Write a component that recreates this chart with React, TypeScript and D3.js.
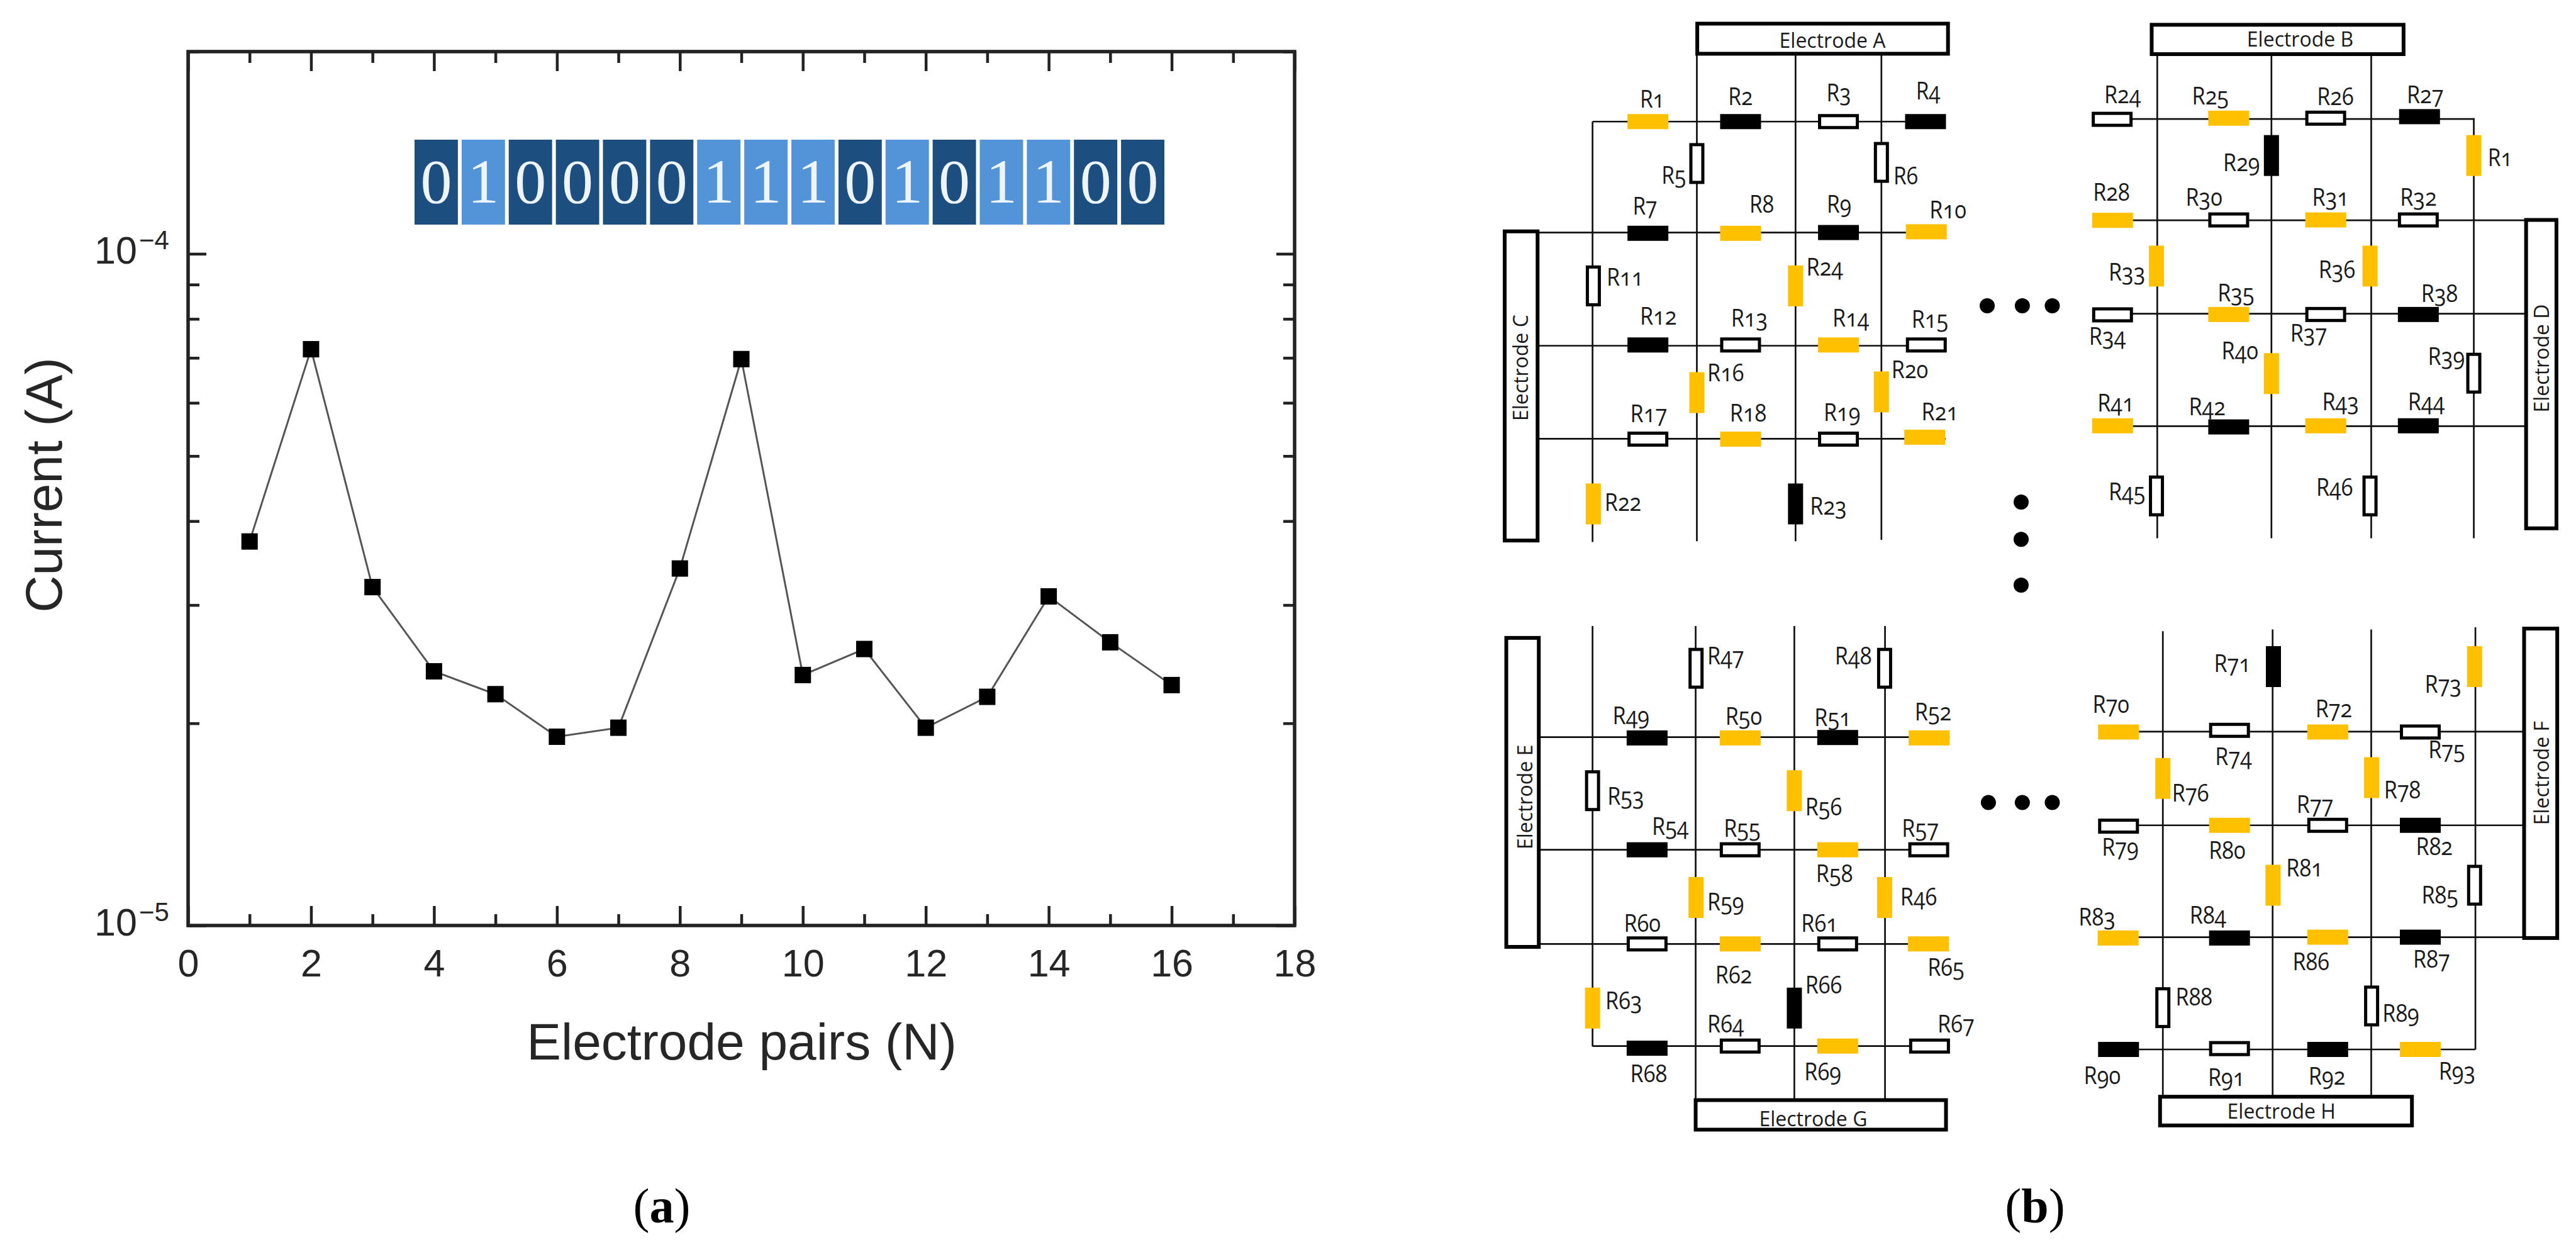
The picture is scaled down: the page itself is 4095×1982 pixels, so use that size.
import React, { useEffect, useRef } from "react";
import * as d3 from "d3";

const WIDTH = 4095;
const HEIGHT = 1982;

// left chart
const pairs = [1, 2, 3, 4, 5, 6, 7, 8, 9, 10, 11, 12, 13, 14, 15, 16];
const current = [
  3.73e-5, 7.21e-5, 3.19e-5, 2.39e-5, 2.21e-5, 1.91e-5, 1.97e-5, 3.4e-5,
  6.97e-5, 2.36e-5, 2.58e-5, 1.97e-5, 2.19e-5, 3.09e-5, 2.64e-5, 2.28e-5,
];
const bits = [0, 1, 0, 0, 0, 0, 1, 1, 1, 0, 1, 0, 1, 1, 0, 0];
const xMajorTicks = [0, 2, 4, 6, 8, 10, 12, 14, 16, 18];
const xMinorTicks = [1, 3, 5, 7, 9, 11, 13, 15, 17];
const yMajorTicks = [1e-5, 1e-4];
const yMinorTicks = [
  2e-5, 3e-5, 4e-5, 5e-5, 6e-5, 7e-5, 8e-5, 9e-5, 2e-4,
];
const yTickExponents = ["−5", "−4"];

// schematic: label and state (y yellow, k black, w white)
const quadALabels = [
  "R1", "R2", "R3", "R4", "R5", "R6", "R7", "R8", "R9", "R10", "R11", "R12",
  "R13", "R14", "R15", "R16", "R17", "R18", "R19", "R20", "R21", "R22", "R23", "R24",
];
const quadAStates = "ykwkwwkykywkwywywywyyyky".split("");
// orientation, centre x, centre y, label x, label baseline, in crop units
const quadALayout = [
  ["h", 658, 319, 638, 282], ["h", 889, 319, 858, 276], ["h", 1133, 319, 1103, 266], ["h", 1350, 319, 1326, 260],
  ["v", 780, 429, 692, 482], ["v", 1240, 426, 1270, 484], ["h", 658, 612, 620, 563], ["h", 889, 612, 911, 558],
  ["h", 1133, 610, 1104, 558], ["h", 1352, 608, 1360, 572], ["v", 522, 750, 555, 750], ["h", 658, 905, 638, 852],
  ["h", 889, 905, 865, 856], ["h", 1133, 905, 1118, 856], ["h", 1352, 905, 1315, 860], ["v", 780, 1030, 806, 1001],
  ["h", 658, 1152, 614, 1108], ["h", 889, 1152, 862, 1106], ["h", 1133, 1152, 1096, 1104], ["v", 1240, 1028, 1265, 992],
  ["h", 1348, 1147, 1340, 1103], ["v", 522, 1322, 550, 1340], ["v", 1026, 1322, 1062, 1350], ["v", 1026, 750, 1053, 723],
];

const quadBLabels = [
  "R24", "R25", "R26", "R27", "R29", "R1", "R28", "R30", "R31", "R32", "R33", "R36",
  "R34", "R35", "R37", "R38", "R40", "R39", "R41", "R42", "R43", "R44", "R45", "R46",
];
const quadBStates = "wywkkyywywyywywkywykykww".split("");
const quadBLayout = [
  ["h", 406, 313, 386, 270], ["h", 698, 310, 606, 274], ["h", 941, 310, 919, 276], ["h", 1176, 306, 1144, 270],
  ["v", 805, 408, 684, 449], ["v", 1312, 408, 1347, 436], ["h", 407, 578, 358, 526], ["h", 698, 577, 590, 539],
  ["h", 941, 577, 907, 539], ["h", 1173, 577, 1127, 539], ["v", 517, 698, 397, 736], ["v", 1052, 698, 923, 730],
  ["h", 407, 826, 348, 905], ["h", 698, 825, 670, 790], ["h", 941, 825, 852, 897], ["h", 1173, 825, 1180, 793],
  ["v", 805, 980, 680, 942], ["v", 1312, 979, 1197, 957], ["h", 407, 1117, 369, 1079], ["h", 698, 1120, 598, 1089],
  ["h", 941, 1117, 932, 1076], ["h", 1173, 1117, 1147, 1076], ["v", 517, 1301, 397, 1312], ["v", 1052, 1301, 917, 1300],
];

const quadCLabels = [
  "R47", "R48", "R49", "R50", "R51", "R52", "R53", "R56", "R54", "R55", "R58", "R57",
  "R59", "R46", "R60", "R62", "R61", "R65", "R63", "R66", "R68", "R64", "R69", "R67",
];
const quadCStates = "wwkykywykwywyywywyykkwyw".split("");
const quadCLayout = [
  ["v", 778, 197, 806, 188], ["v", 1248, 197, 1124, 188], ["h", 656, 362, 570, 329], ["h", 888, 362, 851, 331],
  ["h", 1131, 361, 1073, 334], ["h", 1359, 362, 1323, 320], ["v", 520, 487, 557, 520], ["v", 1023, 487, 1050, 546],
  ["h", 656, 627, 668, 592], ["h", 888, 627, 847, 596], ["h", 1131, 627, 1077, 704], ["h", 1358, 627, 1291, 596],
  ["v", 778, 740, 806, 770], ["v", 1248, 740, 1287, 758], ["h", 656, 850, 598, 822], ["h", 888, 850, 826, 943],
  ["h", 1131, 850, 1040, 822], ["h", 1357, 850, 1355, 925], ["v", 520, 1002, 552, 1004], ["v", 1023, 1002, 1050, 968],
  ["h", 656, 1097, 614, 1178], ["h", 888, 1092, 806, 1060], ["h", 1131, 1092, 1048, 1173], ["h", 1360, 1092, 1380, 1060],
];

const quadDLabels = [
  "R71", "R73", "R70", "R74", "R72", "R75", "R76", "R78", "R79", "R80", "R77", "R82",
  "R81", "R85", "R83", "R84", "R86", "R87", "R88", "R89", "R90", "R91", "R92", "R93",
];
const quadDStates = "kyywywyywywkywykykwwkwky".split("");
const quadDLayout = [
  ["v", 810, 193, 661, 205], ["v", 1314, 193, 1189, 255], ["h", 422, 348, 357, 302], ["h", 700, 344, 664, 427],
  ["h", 946, 348, 915, 313], ["h", 1178, 348, 1198, 410], ["v", 533, 458, 556, 512], ["v", 1056, 456, 1087, 505],
  ["h", 422, 571, 380, 641], ["h", 700, 569, 648, 648], ["h", 946, 569, 868, 540], ["h", 1178, 569, 1167, 640],
  ["v", 809, 711, 842, 690], ["v", 1314, 711, 1181, 754], ["h", 421, 836, 322, 807], ["h", 700, 836, 600, 802],
  ["h", 946, 834, 858, 912], ["h", 1178, 834, 1160, 906], ["v", 533, 1001, 565, 996], ["v", 1056, 997, 1083, 1034],
  ["h", 422, 1100, 335, 1182], ["h", 700, 1098, 646, 1187], ["h", 946, 1100, 898, 1183], ["h", 1178, 1100, 1224, 1172],
];

// wires: x, y1, y2 / y, x1, x2
const quadAVWires = [[520, 319, 1422], [780, 141, 1420], [1026, 141, 1420], [1240, 141, 1416]];
const quadAHWires = [[319, 520, 1400], [610, 383, 1400], [907, 383, 1400], [1151, 383, 1400]];
const quadBVWires = [[519, 142, 1412], [805, 142, 1412], [1055, 142, 1412], [1312, 310, 1412]];
const quadBHWires = [[312, 456, 1312], [578, 456, 1443], [823, 456, 1443], [1118, 456, 1443]];
const quadCVWires = [[520, 97, 1093], [777, 97, 1220], [1023, 97, 1220], [1249, 97, 1220]];
const quadCHWires = [[360, 386, 1410], [627, 386, 1408], [850, 386, 1408], [1092, 520, 1410]];
const quadDVWires = [[533, 109, 1212], [808, 105, 1212], [1055, 105, 1212], [1316, 100, 1100]];
const quadDHWires = [[347, 472, 1438], [569, 472, 1438], [834, 472, 1438], [1100, 472, 1316]];

// electrodes: x1, y1, x2, y2
const quadAElectrodes = [[781, 62, 1406, 141], [301, 607, 383, 1418]];
const quadBElectrodes = [[505, 65, 1136, 142], [1443, 577, 1519, 1386]];
const quadCElectrodes = [[305, 125, 386, 857], [777, 1220, 1401, 1290]];
const quadDElectrodes = [[1438, 103, 1521, 836], [526, 1212, 1157, 1280]];

const electrodeNamesA = ["Electrode A", "Electrode C"];
const electrodeNamesB = ["Electrode B", "Electrode D"];
const electrodeNamesC = ["Electrode E", "Electrode G"];
const electrodeNamesD = ["Electrode F", "Electrode H"];
// label centres for each electrode
const quadAElectrodeText = [[1118, 104], [340, 965]];
const quadBElectrodeText = [[877, 101], [1480, 940]];
const quadCElectrodeText = [[350, 502], [1070, 1263]];
const quadDElectrodeText = [[1480, 445], [830, 1246]];

const dotsTop = [[93, 802], [181, 802], [256, 802], [178, 1317], [178, 1415], [178, 1535]];
const dotsBottom = [[96, 515], [181, 515], [256, 515]];

const SANS = "'Liberation Sans', Arial, sans-serif";
const SERIF = "'Liberation Serif', 'Times New Roman', serif";
const SCHEM = "'Open Sans', 'Noto Sans', sans-serif";
const YELLOW = "#ffc000";
const AXIS_COLOR = "#222";
const TEXT_COLOR = "#262626";

const App: React.FC = () => {
  const svgRef = useRef<SVGSVGElement>(null);

  useEffect(() => {
    if (!svgRef.current) return;
    const svg = d3.select(svgRef.current);
    svg.selectAll("*").remove();

    drawChart(svg);

    const quads = [
      { ox: 2200, oy: 0, w: 1000, h: 950, labels: quadALabels, states: quadAStates, layout: quadALayout, vw: quadAVWires, hw: quadAHWires, el: quadAElectrodes, names: electrodeNamesA, text: quadAElectrodeText, dots: [] as number[][] },
      { ox: 3100, oy: 0, w: 995, h: 950, labels: quadBLabels, states: quadBStates, layout: quadBLayout, vw: quadBVWires, hw: quadBHWires, el: quadBElectrodes, names: electrodeNamesB, text: quadBElectrodeText, dots: dotsTop },
      { ox: 2200, oy: 930, w: 1000, h: 1052, labels: quadCLabels, states: quadCStates, layout: quadCLayout, vw: quadCVWires, hw: quadCHWires, el: quadCElectrodes, names: electrodeNamesC, text: quadCElectrodeText, dots: [] as number[][] },
      { ox: 3100, oy: 930, w: 995, h: 1052, labels: quadDLabels, states: quadDStates, layout: quadDLayout, vw: quadDVWires, hw: quadDHWires, el: quadDElectrodes, names: electrodeNamesD, text: quadDElectrodeText, dots: dotsBottom },
    ];
    quads.forEach((q) => drawQuad(svg, q));

    // panel captions
    [
      ["a", 1052],
      ["b", 3235],
    ].forEach(([letter, cx]) => {
      const t = svg
        .append("text")
        .attr("x", cx as number)
        .attr("y", 1943)
        .attr("text-anchor", "middle")
        .attr("font-family", SERIF)
        .attr("font-size", 78)
        .attr("fill", "#000");
      t.append("tspan").text("(");
      t.append("tspan").attr("font-weight", "bold").text(letter as string);
      t.append("tspan").text(")");
    });
  }, []);

  return (
    <svg
      ref={svgRef}
      width={WIDTH}
      height={HEIGHT}
      style={{ position: "absolute", left: 0, top: 0, background: "#fff" }}
    />
  );
};

function drawChart(svg: any) {
  const x = d3.scaleLinear().domain([0, 18]).range([299, 2058]);
  const y = d3.scaleLog().domain([1e-5, 2e-4]).range([1471, 82]);
  const [x0, x1] = x.range();
  const [y0, y1] = y.range();

  // bit strip
  const strip = d3
    .scaleBand<number>()
    .domain(d3.range(bits.length))
    .range([659, 1851])
    .paddingInner(0.08);
  const stripG = svg.append("g");
  stripG
    .selectAll("rect")
    .data(bits)
    .join("rect")
    .attr("x", (_: number, i: number) => strip(i))
    .attr("y", 222)
    .attr("width", strip.bandwidth())
    .attr("height", 135)
    .attr("fill", (b: number) => (b ? "#5393d8" : "#1d4e80"));
  stripG
    .selectAll("text")
    .data(bits)
    .join("text")
    .attr("x", (_: number, i: number) => (strip(i) as number) + strip.bandwidth() / 2)
    .attr("y", 322)
    .attr("text-anchor", "middle")
    .attr("font-family", SERIF)
    .attr("font-size", 100)
    .attr("fill", "#eef4fb")
    .text((b: number) => b);

  // data line and markers
  const line = d3
    .line<number>()
    .x((_, i) => x(pairs[i]))
    .y((d) => y(d));
  svg
    .append("path")
    .datum(current)
    .attr("fill", "none")
    .attr("stroke", "#555")
    .attr("stroke-width", 3)
    .attr("d", line);
  svg
    .append("g")
    .selectAll("rect")
    .data(current)
    .join("rect")
    .attr("x", (_: number, i: number) => x(pairs[i]) - 13)
    .attr("y", (d: number) => y(d) - 13)
    .attr("width", 26)
    .attr("height", 26)
    .attr("fill", "#000");

  // axes, ticks pointing in on all four sides
  const style = (g: any) => {
    g.select(".domain").remove();
    g.selectAll("line").attr("stroke", AXIS_COLOR).attr("stroke-width", 4.5);
    g.selectAll("text")
      .attr("font-family", SANS)
      .attr("font-size", 61)
      .attr("fill", TEXT_COLOR);
  };
  const addAxis = (axis: any, tx: number, ty: number) =>
    svg.append("g").attr("transform", `translate(${tx},${ty})`).call(axis).call(style);

  addAxis(d3.axisBottom(x).tickValues(xMajorTicks).tickSize(-31).tickPadding(38).tickFormat(d3.format("d") as any), 0, y0);
  addAxis(d3.axisBottom(x).tickValues(xMinorTicks).tickSize(-18).tickFormat(() => ""), 0, y0);
  addAxis(d3.axisTop(x).tickValues(xMajorTicks).tickSize(-31).tickFormat(() => ""), 0, y1);
  addAxis(d3.axisTop(x).tickValues(xMinorTicks).tickSize(-18).tickFormat(() => ""), 0, y1);
  addAxis(d3.axisLeft(y).tickValues(yMajorTicks).tickSize(-29).tickFormat(() => ""), x0, 0);
  addAxis(d3.axisLeft(y).tickValues(yMinorTicks).tickSize(-18).tickFormat(() => ""), x0, 0);
  addAxis(d3.axisRight(y).tickValues(yMajorTicks).tickSize(-29).tickFormat(() => ""), x1, 0);
  addAxis(d3.axisRight(y).tickValues(yMinorTicks).tickSize(-18).tickFormat(() => ""), x1, 0);

  svg
    .append("rect")
    .attr("x", x0)
    .attr("y", y1)
    .attr("width", x1 - x0)
    .attr("height", y0 - y1)
    .attr("fill", "none")
    .attr("stroke", AXIS_COLOR)
    .attr("stroke-width", 5.5);

  // 10^n labels
  yMajorTicks.forEach((v, i) => {
    const label = svg.append("g").attr("font-family", SANS).attr("fill", TEXT_COLOR);
    label
      .append("text")
      .attr("x", 150)
      .attr("y", y(v) + 16)
      .attr("font-size", 61)
      .text("10");
    label
      .append("text")
      .attr("x", 221)
      .attr("y", y(v) - 7)
      .attr("font-size", 42)
      .text(yTickExponents[i]);
  });

  svg
    .append("text")
    .attr("x", 1179)
    .attr("y", 1684)
    .attr("text-anchor", "middle")
    .attr("font-family", SANS)
    .attr("font-size", 82)
    .attr("fill", TEXT_COLOR)
    .text("Electrode pairs (N)");
  svg
    .append("text")
    .attr("transform", "translate(98,771) rotate(-90)")
    .attr("text-anchor", "middle")
    .attr("font-family", SANS)
    .attr("font-size", 82)
    .attr("fill", TEXT_COLOR)
    .text("Current (A)");
}

function drawQuad(svg: any, q: any) {
  // crop units map onto the page through one scale pair per quadrant
  const sx = d3.scaleLinear().domain([0, 1568]).range([q.ox, q.ox + q.w]);
  const sy = d3.scaleLinear().domain([0, 1568]).range([q.oy, q.oy + q.h]);
  const g = svg.append("g");

  g.selectAll("line.v")
    .data(q.vw)
    .join("line")
    .attr("class", "v")
    .attr("x1", (d: number[]) => sx(d[0]))
    .attr("x2", (d: number[]) => sx(d[0]))
    .attr("y1", (d: number[]) => sy(d[1]))
    .attr("y2", (d: number[]) => sy(d[2]))
    .attr("stroke", "#111")
    .attr("stroke-width", 2.7);
  g.selectAll("line.h")
    .data(q.hw)
    .join("line")
    .attr("class", "h")
    .attr("x1", (d: number[]) => sx(d[1]))
    .attr("x2", (d: number[]) => sx(d[2]))
    .attr("y1", (d: number[]) => sy(d[0]))
    .attr("y2", (d: number[]) => sy(d[0]))
    .attr("stroke", "#111")
    .attr("stroke-width", 2.7);

  g.selectAll("rect.el")
    .data(q.el)
    .join("rect")
    .attr("class", "el")
    .attr("x", (d: number[]) => sx(d[0]))
    .attr("y", (d: number[]) => sy(d[1]))
    .attr("width", (d: number[]) => sx(d[2]) - sx(d[0]))
    .attr("height", (d: number[]) => sy(d[3]) - sy(d[1]))
    .attr("fill", "#fff")
    .attr("stroke", "#000")
    .attr("stroke-width", 6);

  q.names.forEach((name: string, i: number) => {
    const [cx, cy] = q.text[i];
    const e = q.el[i];
    const tall = e[3] - e[1] > e[2] - e[0];
    g.append("text")
      .attr("transform", `translate(${sx(cx)},${sy(cy)})${tall ? " rotate(-90)" : ""}`)
      .attr("text-anchor", "middle")
      .attr("dominant-baseline", "central")
      .attr("font-family", SCHEM)
      .attr("font-size", 32)
      .attr("fill", "#1a1a1a")
      .text(name);
  });

  q.labels.forEach((label: string, i: number) => {
    const [orient, cx, cy, lx, ly] = q.layout[i];
    const state = q.states[i];
    const w = orient === "h" ? 65 : 24;
    const h = orient === "h" ? 24 : 65;
    const inset = state === "w" ? 2.5 : 0;
    g.append("rect")
      .attr("x", sx(cx) - w / 2 + inset)
      .attr("y", sy(cy) - h / 2 + inset)
      .attr("width", w - inset * 2)
      .attr("height", h - inset * 2)
      .attr("fill", state === "y" ? YELLOW : state === "k" ? "#000" : "#fff")
      .attr("stroke", state === "w" ? "#000" : "none")
      .attr("stroke-width", state === "w" ? 5 : 0);
    g.append("text")
      .attr("x", sx(lx))
      .attr("y", sy(ly))
      .attr("font-family", SCHEM)
      .attr("font-size", 38)
      .attr("fill", "#1a1a1a")
      .attr("textLength", 19.5 * label.length)
      .attr("lengthAdjust", "spacingAndGlyphs")
      .style("font-feature-settings", "'onum'")
      .text(label);
  });

  g.selectAll("circle")
    .data(q.dots)
    .join("circle")
    .attr("cx", (d: number[]) => sx(d[0]))
    .attr("cy", (d: number[]) => sy(d[1]))
    .attr("r", 12)
    .attr("fill", "#000");
}

export default App;
